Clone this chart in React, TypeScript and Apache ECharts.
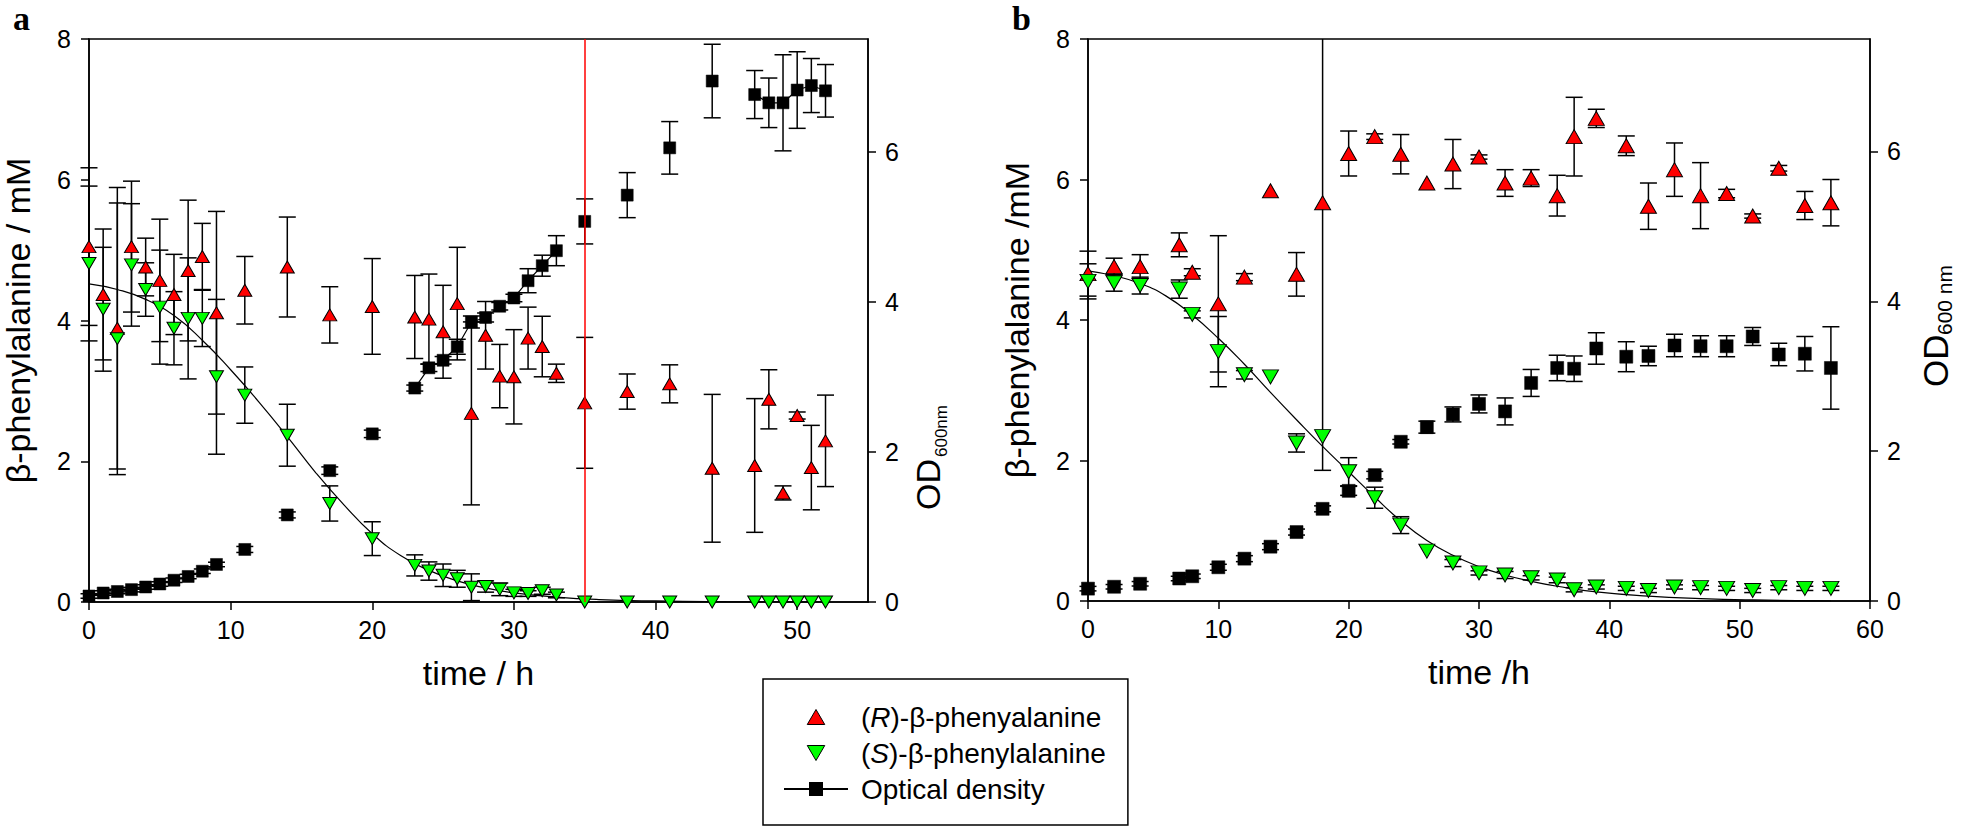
import React, { useEffect, useRef } from 'react';
import * as echarts from 'echarts';

// ---------- Panel a data ----------
const timeA = [0, 1, 2, 3, 4, 5, 6, 7, 8, 9, 11, 14, 17, 20, 23, 24, 25, 26, 27, 28, 29, 30, 31, 32, 33, 35, 38, 41, 44, 47, 48, 49, 50, 51, 52];
const rA = [5.05, 4.37, 3.89, 5.05, 4.76, 4.57, 4.37, 4.71, 4.91, 4.11, 4.43, 4.76, 4.08, 4.2, 4.05, 4.02, 3.84, 4.24, 2.68, 3.79, 3.21, 3.2, 3.75, 3.63, 3.25, 2.83, 2.99, 3.1, 1.9, 1.94, 2.88, 1.55, 2.65, 1.91, 2.29];
const rAErr = [1.12, 0.93, 2.0, 0.93, 0.41, 0.87, 0.57, 1.0, 0.47, 1.44, 0.48, 0.71, 0.4, 0.68, 0.59, 0.64, 0.66, 0.8, 1.3, 0.48, 0.45, 0.67, 0.44, 0.43, 0.13, 0.93, 0.25, 0.27, 1.05, 0.95, 0.42, 0.1, 0.05, 0.6, 0.65];
const sA = [4.81, 4.16, 3.74, 4.79, 4.44, 4.19, 3.89, 4.03, 4.03, 3.2, 2.94, 2.37, 1.4, 0.9, 0.52, 0.44, 0.38, 0.33, 0.21, 0.22, 0.18, 0.13, 0.12, 0.16, 0.1, 0, 0, 0, 0, 0, 0, 0, 0, 0, 0];
const sAErr = [1.1, 0.88, 1.93, 0.87, 0.38, 0.81, 0.52, 0.86, 0.4, 1.1, 0.4, 0.44, 0.25, 0.24, 0.15, 0.13, 0.16, 0.12, 0.19, 0.08, 0.09, 0.05, 0.04, 0.05, 0.04, 0, 0, 0, 0, 0, 0, 0, 0, 0, 0];
const odA = [0.08, 0.12, 0.14, 0.165, 0.2, 0.24, 0.29, 0.34, 0.41, 0.5, 0.7, 1.16, 1.75, 2.24, 2.85, 3.12, 3.22, 3.4, 3.73, 3.79, 3.94, 4.05, 4.28, 4.48, 4.68, 5.07, 5.42, 6.05, 6.94, 6.76, 6.65, 6.65, 6.82, 6.88, 6.81];
const odAErr = [0.03, 0.03, 0.03, 0.03, 0.03, 0.03, 0.03, 0.03, 0.03, 0.03, 0.04, 0.04, 0.05, 0.05, 0.04, 0.05, 0.05, 0.1, 0.08, 0.06, 0.05, 0.05, 0.16, 0.14, 0.2, 0.3, 0.3, 0.35, 0.49, 0.32, 0.33, 0.64, 0.51, 0.36, 0.35];
const fitTimeA = [0, 2, 4, 6, 8, 10, 12, 14, 16, 18, 20, 22, 24, 26, 28, 30, 33, 36, 40, 45, 52];
const fitA = [4.52, 4.44, 4.3, 4.07, 3.72, 3.3, 2.84, 2.35, 1.84, 1.38, 0.97, 0.66, 0.45, 0.3, 0.2, 0.13, 0.07, 0.035, 0.015, 0.005, 0];
const eventTimeA = 35;

// ---------- Panel b data ----------
const timeB = [0, 2, 4, 7, 8, 10, 12, 14, 16, 18, 20, 22, 24, 26, 28, 30, 32, 34, 36, 37.3, 39, 41.3, 43, 45, 47, 49, 51, 53, 55, 57];
const rB = [4.66, 4.76, 4.76, 5.07, 4.68, 4.23, 4.61, 5.84, 4.65, 5.67, 6.37, 6.61, 6.36, 5.95, 6.22, 6.32, 5.95, 6.02, 5.77, 6.61, 6.87, 6.48, 5.62, 6.14, 5.77, 5.8, 5.48, 6.16, 5.63, 5.67];
const rBErr = [0.32, 0.12, 0.17, 0.17, 0.05, 0.97, 0.05, 0, 0.31, 3.81, 0.32, 0.04, 0.28, 0, 0.35, 0.03, 0.19, 0.12, 0.29, 0.56, 0.13, 0.14, 0.33, 0.38, 0.47, 0.06, 0.03, 0.04, 0.2, 0.33];
const sB = [4.55, 4.53, 4.49, 4.44, 4.08, 3.55, 3.22, 3.19, 2.25, 2.34, 1.84, 1.47, 1.08, 0.71, 0.54, 0.4, 0.37, 0.33, 0.3, 0.16, 0.2, 0.18, 0.15, 0.2, 0.19, 0.18, 0.15, 0.19, 0.18, 0.18];
const sBErr = [0.25, 0.12, 0.12, 0.13, 0.05, 0.5, 0.06, 0, 0.13, 0, 0.2, 0.15, 0.12, 0, 0.05, 0.03, 0.05, 0.03, 0.04, 0.03, 0.03, 0.03, 0.03, 0.03, 0.03, 0.03, 0.03, 0.03, 0.03, 0.03];
const odB = [0.165, 0.19, 0.23, 0.3, 0.33, 0.45, 0.565, 0.725, 0.92, 1.23, 1.47, 1.68, 2.125, 2.32, 2.49, 2.63, 2.53, 2.91, 3.11, 3.1, 3.37, 3.26, 3.27, 3.41, 3.4, 3.4, 3.53, 3.29, 3.3, 3.11];
const odBErr = [0.03, 0.03, 0.03, 0.03, 0.03, 0.04, 0.04, 0.04, 0.04, 0.04, 0.06, 0.05, 0.03, 0.08, 0.1, 0.12, 0.18, 0.18, 0.17, 0.17, 0.21, 0.2, 0.13, 0.15, 0.14, 0.14, 0.12, 0.15, 0.23, 0.55];
const fitTimeB = [0, 2, 4, 6, 8, 10, 12, 14, 16, 18, 20, 22, 24, 26, 28, 30, 32, 34, 36, 39, 43, 47, 51, 57];
const fitB = [4.7, 4.63, 4.52, 4.34, 4.07, 3.74, 3.37, 2.97, 2.58, 2.2, 1.84, 1.48, 1.14, 0.86, 0.65, 0.49, 0.37, 0.28, 0.21, 0.13, 0.07, 0.035, 0.015, 0];

// ---------- Ticks / labels ----------
const xTicksA = [0, 10, 20, 30, 40, 50];
const xTicksB = [0, 10, 20, 30, 40, 50, 60];
const yTicksLeft = [0, 2, 4, 6, 8];
const yTicksRight = [0, 2, 4, 6];
const NAME_R = '(R)-β-phenyalanine';
const NAME_S = '(S)-β-phenylalanine';
const NAME_OD = 'Optical density';

const FONT = '"Liberation Sans", Arial, Helvetica, sans-serif';
const SERIF = '"Liberation Serif", "Times New Roman", serif';
const BLACK = '#000';
const RED = '#ff0000';
const GREEN = '#00ff00';

function pairs(t: number[], v: number[]) {
  return t.map((x, i) => [x, v[i]]);
}
function triples(t: number[], v: number[], e: number[]) {
  return t.map((x, i) => [x, v[i], e[i]]);
}
function brokenLine(t: number[], v: number[]) {
  const d: any[] = [];
  t.forEach((x, i) => {
    if (i > 0 && x - t[i - 1] > 1.01) d.push([x, '-']);
    d.push([x, v[i]]);
  });
  return d;
}

function errSeries(name: string, xi: number, yi: number, t: number[], v: number[], e: number[], capW: number) {
  return {
    type: 'custom',
    name,
    xAxisIndex: xi,
    yAxisIndex: yi,
    silent: true,
    z: 2,
    encode: { x: 0, y: 1 },
    data: triples(t, v, e),
    renderItem: (params: any, api: any) => {
      const x = api.value(0);
      const y = api.value(1);
      const err = api.value(2);
      if (!err) return null;
      const cs = params.coordSys;
      const p1 = api.coord([x, y + err]);
      const p2 = api.coord([x, y - err]);
      const top = cs.y;
      const bottom = cs.y + cs.height;
      const cx = p1[0];
      let y1 = p1[1];
      let y2 = p2[1];
      const capTop = y1 >= top - 0.5;
      const capBot = y2 <= bottom + 0.5;
      y1 = Math.max(y1, top);
      y2 = Math.min(y2, bottom);
      const st = { stroke: BLACK, lineWidth: 1.5 };
      const children: any[] = [
        { type: 'line', shape: { x1: cx, y1, x2: cx, y2 }, style: st },
      ];
      if (capTop) children.push({ type: 'line', shape: { x1: cx - capW / 2, y1, x2: cx + capW / 2, y2: y1 }, style: st });
      if (capBot) children.push({ type: 'line', shape: { x1: cx - capW / 2, y1: y2, x2: cx + capW / 2, y2 }, style: st });
      return { type: 'group', children };
    },
  };
}

function xAxisCfg(gridIndex: number, max: number, ticks: number[], name: string) {
  return {
    type: 'value',
    gridIndex,
    min: 0,
    max,
    interval: 10,
    name,
    nameLocation: 'middle',
    nameGap: 54,
    nameTextStyle: { fontSize: 34, color: BLACK, fontFamily: FONT },
    axisLine: { show: true, onZero: false, lineStyle: { color: BLACK, width: 1.5 } },
    axisTick: { show: true, inside: false, length: 8, customValues: ticks, lineStyle: { color: BLACK, width: 1.5 } },
    axisLabel: { fontSize: 25, color: BLACK, fontFamily: FONT, margin: 15, customValues: ticks },
    splitLine: { show: false },
  };
}
function yLeftCfg(gridIndex: number, name: string) {
  return {
    type: 'value',
    gridIndex,
    position: 'left',
    min: 0,
    max: 8,
    interval: 2,
    name,
    nameLocation: 'middle',
    nameRotate: 90,
    nameGap: 54,
    nameTextStyle: { fontSize: 34, color: BLACK, fontFamily: FONT },
    axisLine: { show: true, onZero: false, lineStyle: { color: BLACK, width: 1.5 } },
    axisTick: { show: true, inside: false, length: 8, customValues: yTicksLeft, lineStyle: { color: BLACK, width: 1.5 } },
    axisLabel: { fontSize: 25, color: BLACK, fontFamily: FONT, margin: 18, customValues: yTicksLeft },
    splitLine: { show: false },
  };
}
function yRightCfg(gridIndex: number) {
  return {
    type: 'value',
    gridIndex,
    position: 'right',
    min: 0,
    max: 7.5,
    interval: 2,
    axisLine: { show: true, onZero: false, lineStyle: { color: BLACK, width: 1.5 } },
    axisTick: { show: true, inside: false, length: 8, customValues: yTicksRight, lineStyle: { color: BLACK, width: 1.5 } },
    axisLabel: { fontSize: 25, color: BLACK, fontFamily: FONT, margin: 17, customValues: yTicksRight },
    splitLine: { show: false },
  };
}

function panelSeries(xi: number, yL: number, yR: number, t: number[], r: number[], rE: number[], s: number[], sE: number[], od: number[], odE: number[], fitT: number[], fit: number[], triSize: number[], sqSize: number, eventTime: number | null, tag: string) {
  const rSeries: any = {
    type: 'scatter',
    name: NAME_R,
    xAxisIndex: xi,
    yAxisIndex: yL,
    symbol: 'triangle',
    symbolSize: triSize,
    z: 4,
    itemStyle: { color: RED, borderColor: BLACK, borderWidth: 1, opacity: 1 },
    data: pairs(t, r),
  };
  if (eventTime !== null) {
    rSeries.markLine = {
      silent: true,
      symbol: 'none',
      label: { show: false },
      lineStyle: { color: RED, width: 1.5, type: 'solid' },
      data: [{ xAxis: eventTime }],
    };
  }
  return [
    errSeries('errR' + tag, xi, yL, t, r, rE, 17),
    errSeries('errS' + tag, xi, yL, t, s, sE, 17),
    errSeries('errOD' + tag, xi, yR, t, od, odE, 17),
    {
      type: 'line',
      name: 'fit' + tag,
      xAxisIndex: xi,
      yAxisIndex: yL,
      showSymbol: false,
      smooth: 0.5,
      z: 3,
      lineStyle: { color: BLACK, width: 1.2 },
      itemStyle: { color: BLACK },
      data: pairs(fitT, fit),
    },
    {
      type: 'line',
      name: NAME_OD,
      xAxisIndex: xi,
      yAxisIndex: yR,
      symbol: 'rect',
      symbolSize: sqSize,
      showAllSymbol: true,
      connectNulls: false,
      z: 4,
      lineStyle: { color: BLACK, width: 1.2 },
      itemStyle: { color: BLACK, borderColor: BLACK, borderWidth: 0.5 },
      data: brokenLine(t, od),
    },
    rSeries,
    {
      type: 'scatter',
      name: NAME_S,
      xAxisIndex: xi,
      yAxisIndex: yL,
      symbol: 'triangle',
      symbolRotate: 180,
      symbolSize: triSize,
      z: 4,
      itemStyle: { color: GREEN, borderColor: BLACK, borderWidth: 1, opacity: 1 },
      data: pairs(t, s),
    },
  ];
}

function odTitle(x: number, y: number, odSize: number, sub: string, subSize: number, subDx: number, subDy: number) {
  return {
    type: 'group',
    x,
    y,
    rotation: Math.PI / 2,
    silent: true,
    children: [
      { type: 'text', x: 0, y: -0.35 * odSize, style: { text: 'OD', fontSize: odSize, fontFamily: FONT, fill: BLACK, align: 'left', verticalAlign: 'middle' } },
      { type: 'text', x: subDx, y: subDy - 0.35 * subSize, style: { text: sub, fontSize: subSize, fontFamily: FONT, fill: BLACK, align: 'left', verticalAlign: 'middle' } },
    ],
  };
}

export default function App() {
  const ref = useRef<HTMLDivElement>(null);
  useEffect(() => {
    if (!ref.current) return;
    const chart = echarts.init(ref.current, null, { renderer: 'svg' });
    const option: any = {
      animation: false,
      backgroundColor: '#fff',
      grid: [
        { left: 86, top: 39, width: 782, height: 563, show: true, borderColor: BLACK, borderWidth: 1.5, backgroundColor: 'transparent' },
        { left: 1088, top: 39, width: 782, height: 562, show: true, borderColor: BLACK, borderWidth: 1.5, backgroundColor: 'transparent' },
      ],
      xAxis: [xAxisCfg(0, 55, xTicksA, 'time / h'), xAxisCfg(1, 60, xTicksB, 'time /h')],
      yAxis: [yLeftCfg(0, 'β-phenylalanine / mM'), yRightCfg(0), yLeftCfg(1, 'β-phenylalanine /mM'), yRightCfg(1)],
      legend: {
        orient: 'vertical',
        left: 763,
        top: 679,
        symbolRotate: 0,
        symbolKeepAspect: true,
        data: [
          { name: NAME_R, icon: 'path://M7,0L14,12L0,12Z', symbolRotate: 0, itemStyle: { color: RED, borderColor: BLACK, borderWidth: 1 } },
          { name: NAME_S, icon: 'path://M0,0L14,0L7,12Z', symbolRotate: 0, itemStyle: { color: GREEN, borderColor: BLACK, borderWidth: 1 } },
          { name: NAME_OD },
        ],
        itemWidth: 64,
        itemHeight: 15,
        itemGap: 8,
        padding: [24, 22, 22, 20],
        borderColor: BLACK,
        borderWidth: 1.5,
        backgroundColor: '#fff',
        selectedMode: false,
        textStyle: {
          fontSize: 28,
          color: BLACK,
          fontFamily: FONT,
          padding: [0, 0, 0, 8],
          rich: {
            i: { fontSize: 28, fontStyle: 'italic', color: BLACK, fontFamily: FONT },
          },
        },
        formatter: (name: string) => {
          if (name === NAME_R) return '({i|R})-β-phenyalanine';
          if (name === NAME_S) return '({i|S})-β-phenylalanine';
          return name;
        },
      },
      graphic: [
        { type: 'text', x: 13, y: 1, silent: true, style: { text: 'a', fontSize: 34, fontWeight: 'bold', fontFamily: SERIF, fill: BLACK, align: 'left', verticalAlign: 'top' } },
        { type: 'text', x: 1012, y: 1, silent: true, style: { text: 'b', fontSize: 34, fontWeight: 'bold', fontFamily: SERIF, fill: BLACK, align: 'left', verticalAlign: 'top' } },
        odTitle(940, 510, 34, '600nm', 17, 53, 7),
        odTitle(1948, 387, 35, '600 nm', 21, 52, 4),
      ],
      series: [
        ...panelSeries(0, 0, 1, timeA, rA, rAErr, sA, sAErr, odA, odAErr, fitTimeA, fitA, [14, 12], 12, eventTimeA, 'A'),
        ...panelSeries(1, 2, 3, timeB, rB, rBErr, sB, sBErr, odB, odBErr, fitTimeB, fitB, [16, 14], 13, null, 'B'),
      ],
    };
    chart.setOption(option);
    return () => chart.dispose();
  }, []);
  return <div ref={ref} style={{ position: 'absolute', left: 0, top: 0, width: 1961, height: 828, background: '#fff' }} />;
}
